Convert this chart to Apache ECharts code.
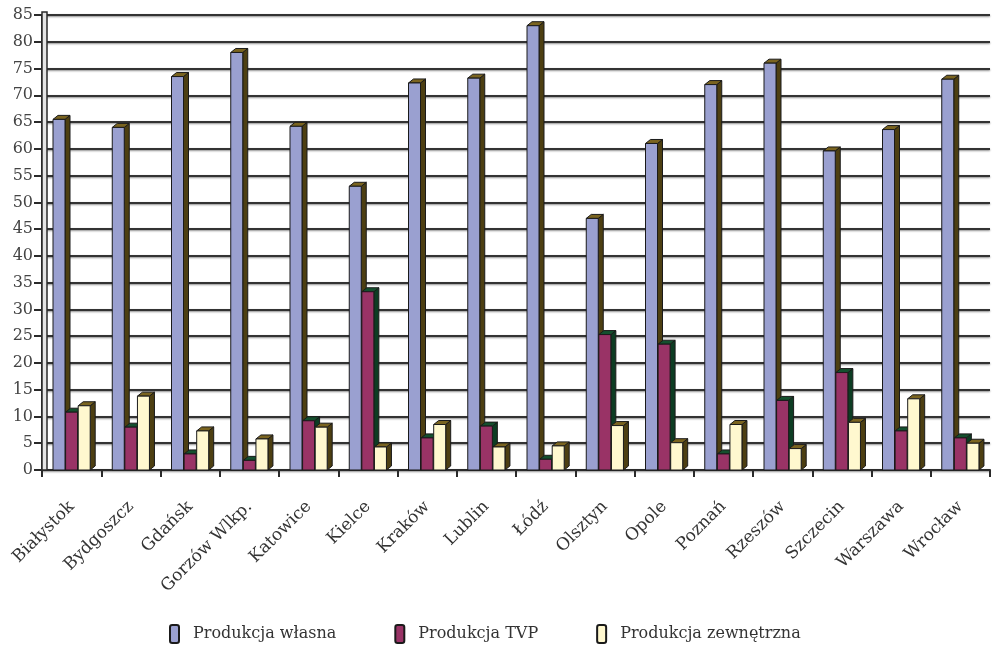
<!DOCTYPE html>
<html>
<head>
<meta charset="utf-8">
<script src="https://cdn.jsdelivr.net/npm/echarts@6/dist/echarts.min.js"></script>
<style>
  html, body { margin: 0; padding: 0; background: #ffffff; }
  #chart { width: 992px; height: 645px; }
</style>
</head>
<body>
<div id="chart"></div>
<script>
// Regional stations: share of programme production by source (%)
const cities = ['Białystok', 'Bydgoszcz', 'Gdańsk', 'Gorzów Wlkp.', 'Katowice', 'Kielce', 'Kraków', 'Lublin',
                'Łódź', 'Olsztyn', 'Opole', 'Poznań', 'Rzeszów', 'Szczecin', 'Warszawa', 'Wrocław'];
const produkcjaWlasna    = [65.5, 64.0, 73.5, 78.0, 64.2, 53.0, 72.3, 73.2, 83.0, 47.0, 61.0, 72.0, 76.0, 59.6, 63.6, 73.0];
const produkcjaTVP       = [10.8,  8.0,  3.0,  1.8,  9.2, 33.3,  6.0,  8.2,  2.0, 25.3, 23.5,  3.0, 13.0, 18.2,  7.3,  6.0];
const produkcjaZewnetrzna = [12.0, 13.8,  7.3,  5.8,  8.0,  4.3,  8.5,  4.3,  4.5,  8.3,  5.1,  8.5,  4.0,  8.9, 13.3,  5.0];
const seriesNames = ['Produkcja własna', 'Produkcja TVP', 'Produkcja zewnętrzna'];
const yTicks = { min: 0, max: 85, step: 5 };

const SERIF = '"DejaVu Serif", serif';
const palette = [
  { front: '#9aa0d0', side: '#4d3f12', top: '#7a6420' },
  { front: '#993366', side: '#0d3d23', top: '#14502e' },
  { front: '#fff8cf', side: '#4d3f12', top: '#7a6420' }
];

// Pseudo-3D column: front face, right side face and top cap
function makeRender(sIdx) {
  const c = palette[sIdx];
  return function (params, api) {
    const ci = api.value(0);
    const v = api.value(1);
    const base = api.coord([ci, 0]);
    const top = api.coord([ci, v]);
    const band = api.size([1, 0])[0];
    const w = 12, pitch = 12.6, dx = 5, dy = 4;
    const x0 = base[0] - band / 2 + 11 + sIdx * pitch;
    const x1 = x0 + w;
    const yb = base[1], yt = top[1];
    const stroke = { stroke: '#1a1a1a', lineWidth: 1 };
    return {
      type: 'group',
      children: [
        { type: 'polygon', shape: { points: [[x1, yt], [x1 + dx, yt - dy], [x1 + dx, yb - dy], [x1, yb]] },
          style: Object.assign({ fill: c.side }, stroke) },
        { type: 'polygon', shape: { points: [[x0, yt], [x0 + dx, yt - dy], [x1 + dx, yt - dy], [x1, yt]] },
          style: Object.assign({ fill: c.top }, stroke) },
        { type: 'rect', shape: { x: x0, y: yt, width: w, height: yb - yt },
          style: Object.assign({ fill: c.front }, stroke) }
      ]
    };
  };
}

const values = [produkcjaWlasna, produkcjaTVP, produkcjaZewnetrzna];
const series = values.map((arr, s) => ({
  name: seriesNames[s],
  type: 'custom',
  renderItem: makeRender(s),
  itemStyle: { color: palette[s].front, borderColor: '#1a1a1a', borderWidth: 1 },
  encode: { x: 0, y: 1 },
  data: arr.map((v, i) => [i, v]),
  z: 3 + s
}));

const chart = echarts.init(document.getElementById('chart'));
chart.setOption({
  animation: false,
  backgroundColor: '#ffffff',
  grid: { left: 42, right: 2, top: 15, bottom: 175, containLabel: false },
  legend: {
    data: seriesNames,
    left: 169,
    top: 624,
    padding: 0,
    itemWidth: 9,
    itemHeight: 18,
    itemGap: 58,
    icon: 'roundRect',
    textStyle: { fontFamily: SERIF, fontSize: 16, color: '#333', padding: [0, 0, 0, 9] }
  },
  xAxis: {
    type: 'category',
    data: cities,
    boundaryGap: true,
    axisLine: { lineStyle: { color: '#2a2a2a', width: 2 } },
    axisTick: { show: true, length: 7, lineStyle: { color: '#2a2a2a', width: 2 } },
    axisLabel: {
      rotate: 45,
      interval: 0,
      margin: 34,
      fontFamily: SERIF,
      fontSize: 17,
      color: '#333'
    },
    splitLine: { show: false }
  },
  yAxis: {
    type: 'value',
    min: yTicks.min,
    max: yTicks.max,
    interval: yTicks.step,
    axisLine: { show: true, lineStyle: { color: '#2a2a2a', width: 2 } },
    axisTick: { show: true, length: 8, lineStyle: { color: '#2a2a2a', width: 2 } },
    axisLabel: { margin: 9, fontFamily: SERIF, fontSize: 16, color: '#444' },
    splitLine: { show: true, lineStyle: { color: '#333', width: 2, shadowColor: 'rgba(0,0,0,0.45)', shadowBlur: 2, shadowOffsetY: 1 } }
  },
  series: series
});

// Left side wall of the plot box
const p0 = chart.convertToPixel({ gridIndex: 0 }, [0, yTicks.min]);
const p1 = chart.convertToPixel({ gridIndex: 0 }, [0, yTicks.max]);
const band = chart.convertToPixel({ gridIndex: 0 }, [1, 0])[0] - p0[0];
const axisX = p0[0] - band / 2;
chart.setOption({
  graphic: [{
    type: 'rect',
    z: 2,
    shape: { x: axisX, y: p1[1] - 3, width: 5, height: p0[1] - p1[1] + 3 },
    style: { fill: '#e4e4e4', stroke: '#2a2a2a', lineWidth: 1.5 }
  }]
});
</script>
</body>
</html>
